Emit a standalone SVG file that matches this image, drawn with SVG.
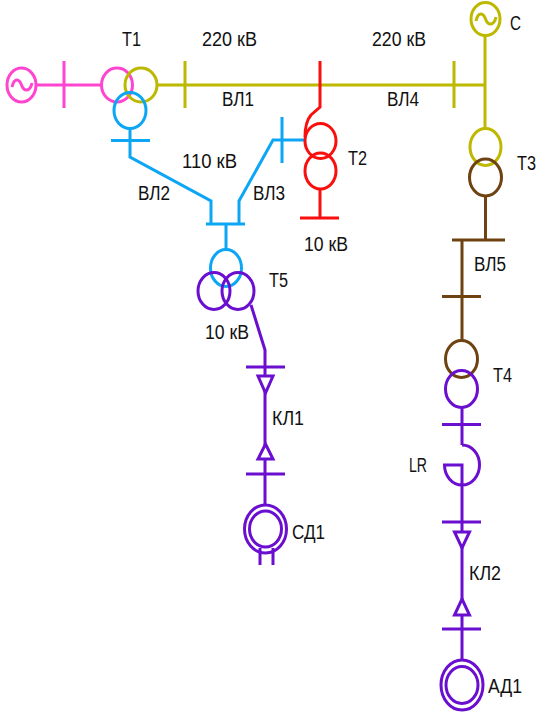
<svg xmlns="http://www.w3.org/2000/svg" width="548" height="723" viewBox="0 0 548 723">
<style>
.s{fill:none;stroke-width:3;stroke-linejoin:miter}
.pink{stroke:#ff45d0}.olive{stroke:#bdb800}.blue{stroke:#0ca6f5}.red{stroke:#fa0f0f}.brown{stroke:#6f4212}.purple{stroke:#6a0fd0}
.tri{fill:#fff}
text{font-family:"Liberation Sans",Arial,sans-serif;font-size:20px;fill:#111}
</style>
<rect width="548" height="723" fill="#fff"/>
<g id="connectors" class="s">
<path class="s pink" d="M36 85H102M64 61V108"/>
<path class="s olive" d="M157 85H485M185 61V108M454 61V108M485 36V129"/>
<path class="s red" d="M320 61V107L311 115Q305 122 305 137M320 190V218M300 218H339"/>
<path class="s blue" d="M130 128V157L211 201V224M111 140.500H150M206 224H245M226 224V250M239 224V201L273 140H305M282 117V163"/>
<path class="s purple" d="M251 305L265 350V505M246 367H285M246 474H285"/>
<path class="s purple" d="M260 548V565M273 548V565"/>
<path class="s brown" d="M485.500 196V240M452 240H505M462 240V341M442 296.500H481"/>
<path class="s purple" d="M462 408V445M442 424.500H481M462 445A17.500 20 0 1 1 444.500 465H462V659M442 522H481M442 629H481"/>
</g>
<g id="G1" class="s pink"><ellipse cx="21.500" cy="85" rx="14.500" ry="17"/><path d="M12 87C14 78 19 78 21.500 85S30 92 32 83"/></g>
<g id="T1" class="s"><ellipse class="s pink" cx="117" cy="85" rx="15.500" ry="17"/><ellipse class="s olive" cx="141" cy="85" rx="16" ry="17"/><ellipse class="s blue" cx="130" cy="110.500" rx="16" ry="18"/></g>
<g id="C" class="s olive"><ellipse cx="485.500" cy="19" rx="14.500" ry="16.500"/><path d="M476 21C478 12 483 12 485.500 19S494 26 496 17"/></g>
<g id="T2" class="s red"><ellipse cx="320.500" cy="141" rx="15.500" ry="17.500"/><ellipse cx="320.500" cy="171" rx="15.500" ry="18"/></g>
<g id="T3" class="s"><ellipse class="s olive" cx="485.500" cy="147" rx="15.500" ry="18.500"/><ellipse class="s brown" cx="485.500" cy="177.500" rx="16" ry="18.500"/></g>
<g id="T5" class="s"><ellipse class="s blue" cx="226" cy="268" rx="15.500" ry="18.500"/><ellipse class="s purple" cx="214" cy="291" rx="16" ry="18.500"/><ellipse class="s purple" cx="238" cy="291" rx="16" ry="18.500"/></g>
<g id="T4" class="s"><ellipse class="s brown" cx="461.500" cy="359" rx="16" ry="18.500"/><ellipse class="s purple" cx="461.500" cy="389" rx="16" ry="18.500"/></g>
<g id="KL1" class="s purple"><path class="tri" d="M258 376H273L265.500 393Z"/><path class="tri" d="M265.500 444L273 459H258Z"/></g>
<g id="KL2" class="s purple"><path class="tri" d="M454.500 532H469.500L462 548Z"/><path class="tri" d="M462 599L469.500 615H454.500Z"/></g>
<g id="SD1" class="s purple"><ellipse cx="265.500" cy="529" rx="21" ry="24"/><ellipse cx="265.500" cy="529" rx="16" ry="18"/></g>
<g id="AD1" class="s purple"><ellipse cx="462" cy="685" rx="21" ry="25"/><ellipse cx="462" cy="685" rx="16" ry="18.500"/></g>
<g id="labels">
<text x="122" y="45.500" textLength="19" lengthAdjust="spacingAndGlyphs">Т1</text>
<text x="202" y="45.500" textLength="55" lengthAdjust="spacingAndGlyphs">220 кВ</text>
<text x="222" y="106" textLength="32" lengthAdjust="spacingAndGlyphs">ВЛ1</text>
<text x="182" y="167.500" textLength="55" lengthAdjust="spacingAndGlyphs">110 кВ</text>
<text x="138" y="199.500" textLength="32" lengthAdjust="spacingAndGlyphs">ВЛ2</text>
<text x="253" y="199.500" textLength="32" lengthAdjust="spacingAndGlyphs">ВЛ3</text>
<text x="372" y="45.500" textLength="54" lengthAdjust="spacingAndGlyphs">220 кВ</text>
<text x="387" y="105.500" textLength="32" lengthAdjust="spacingAndGlyphs">ВЛ4</text>
<text x="510" y="29.500" textLength="11" lengthAdjust="spacingAndGlyphs">С</text>
<text x="348" y="164.500" textLength="19" lengthAdjust="spacingAndGlyphs">Т2</text>
<text x="517" y="169.500" textLength="19" lengthAdjust="spacingAndGlyphs">Т3</text>
<text x="304" y="250.500" textLength="44" lengthAdjust="spacingAndGlyphs">10 кВ</text>
<text x="474" y="271" textLength="32" lengthAdjust="spacingAndGlyphs">ВЛ5</text>
<text x="269" y="286.500" textLength="19" lengthAdjust="spacingAndGlyphs">Т5</text>
<text x="205" y="338.500" textLength="44" lengthAdjust="spacingAndGlyphs">10 кВ</text>
<text x="272" y="424.500" textLength="32" lengthAdjust="spacingAndGlyphs">КЛ1</text>
<text x="292" y="539" textLength="33" lengthAdjust="spacingAndGlyphs">СД1</text>
<text x="493" y="381.500" textLength="19" lengthAdjust="spacingAndGlyphs">Т4</text>
<text x="409" y="472" textLength="18" lengthAdjust="spacingAndGlyphs">LR</text>
<text x="469" y="579.500" textLength="32" lengthAdjust="spacingAndGlyphs">КЛ2</text>
<text x="488" y="693" textLength="34" lengthAdjust="spacingAndGlyphs">АД1</text>
</g>
</svg>
